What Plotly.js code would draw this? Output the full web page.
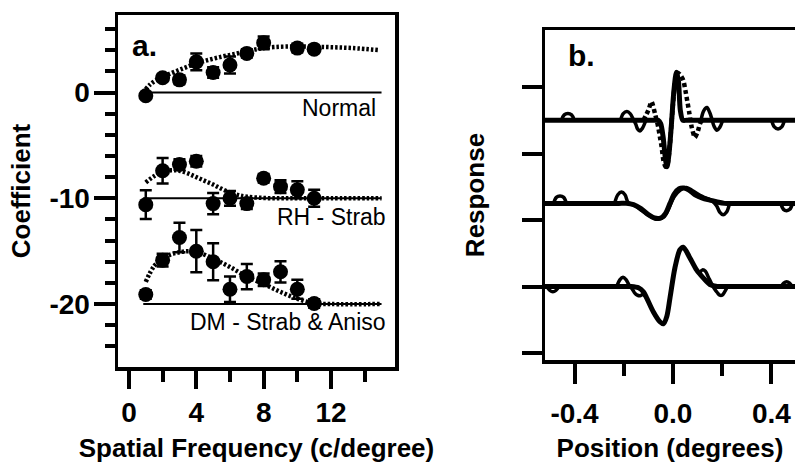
<!DOCTYPE html>
<html><head><meta charset="utf-8">
<script src="https://cdn.plot.ly/plotly-3.0.1.min.js"></script>
<style>html,body{margin:0;padding:0;background:#fff;overflow:hidden}#chart{width:795px;height:463px}</style>
</head><body><div id="chart"></div>
<script>
// ---------- Panel a: coefficients vs spatial frequency ----------
const freq = [1,2,3,4,5,6,7,8,9,10,11];
const normalFreq = [1,2,3,4,5,6,7,8,10,11];
const normalCoef = [-0.3,1.4,1.2,2.9,1.9,2.6,3.7,4.7,4.2,4.1];
const normalErr  = [0.2,0.3,0.4,0.8,0.5,0.8,0.4,0.6,0.4,0.3];
const rhCoef = [-10.6,-7.4,-6.8,-6.5,-10.5,-10.0,-10.5,-8.1,-8.9,-9.2,-10.0];
const rhErr  = [1.35,1.2,0.5,0.5,1.0,0.7,0.5,0.4,0.6,0.8,0.8];
const dmCoef = [-19.1,-15.85,-13.7,-15.0,-16.0,-18.6,-17.4,-17.7,-16.95,-18.6,-19.95];
const dmErr  = [0.4,0.6,1.4,2.0,1.75,1.2,1.2,0.6,1.0,0.9,0.4];

const normFitX = [1,1.25,1.65,2.25,3.25,4.2,5.4,6.6,7.6,8.6,10,11.75,13.3,14.9];
const normFitY = [0.3,0.75,1.2,1.65,2.3,2.85,3.35,3.75,4.1,4.3,4.35,4.3,4.2,4.0];
const rhFitX = [1,1.5,2,2.5,3,3.5,4,4.5,5,5.5,6,6.5,7,8,9,10,12,15];
const rhFitY = [-8.5,-7.9,-7.5,-7.35,-7.4,-7.65,-8.0,-8.35,-8.7,-9.1,-9.45,-9.7,-9.85,-9.97,-10,-10,-10,-10];
const dmFitX = [1,1.5,2,2.5,3,3.5,4,5,6,7,8,9,10,11,12,15];
const dmFitY = [-17.9,-16.4,-15.7,-15.3,-15.1,-15.0,-15.05,-15.7,-16.5,-17.4,-18.1,-18.85,-19.5,-19.95,-20,-20];

const baseX = [0.85, 15.0];
const baseLevels = [0, -10, -20];
const groupNames = ['Normal', 'RH - Strab', 'DM - Strab & Aniso'];

const aXTickVals = [0,4,8,12];
const aXTickText = ['0','4','8','12'];
const aYTickVals = [-20,-10,0];
const aYTickText = ['-20','-10','0'];

// ---------- Panel b: response profiles ----------
const rowOffsets = [3.5, 2.25, 1.0];
const model1X = [-0.52,-0.09,-0.07,-0.06,-0.05,-0.04,-0.03,-0.024,-0.016,-0.006,0.004,0.014,0.022,0.03,0.04,0.055,0.08,0.496];
const model1Y = [0,0,0,0,-0.05,-0.25,-0.6,-0.7,-0.5,-0.05,0.45,0.72,0.6,0.15,0,0,0,0];
const dotted1X = [-0.12,-0.1,-0.087,-0.073,-0.06,-0.053,-0.046,-0.039,-0.03,-0.022,-0.012,-0.002,0.008,0.018,0.03,0.042,0.053,0.06,0.066,0.076,0.089,0.1,0.11,0.118];
const dotted1Y = [0,0.15,0.28,0.1,-0.1,-0.25,-0.4,-0.6,-0.7,-0.66,-0.35,0.15,0.55,0.72,0.68,0.6,0.4,0.25,0.12,-0.1,-0.26,-0.18,-0.05,0];
const data1X = [-0.453,-0.442,-0.427,-0.412,-0.401,null,-0.213,-0.202,-0.187,-0.174,-0.162,-0.151,-0.144,-0.134,-0.124,-0.11,null,0.114,0.125,0.138,0.149,0.158,0.167,0.179,0.19,0.202,null,0.401,0.412,0.427,0.442,0.453];
const data1Y = [0,0.08,0.1,0.08,0,null,0,0.1,0.13,0.1,0.02,-0.06,-0.13,-0.16,-0.12,0,null,0,0.14,0.19,0.12,0.02,-0.09,-0.15,-0.11,0,null,0,-0.1,-0.13,-0.1,0];

const model2X = [-0.52,-0.22,-0.19,-0.16,-0.13,-0.1,-0.075,-0.05,-0.03,-0.012,0.005,0.025,0.045,0.065,0.09,0.12,0.15,0.18,0.21,0.24,0.496];
const model2Y = [0,0,0,-0.02,-0.08,-0.17,-0.22,-0.22,-0.15,0,0.14,0.22,0.23,0.2,0.13,0.08,0.05,0.02,0,0,0];
const data2X = [-0.485,-0.474,-0.459,-0.444,-0.433,null,-0.237,-0.224,-0.209,-0.195,-0.183,-0.17,-0.15,-0.13,-0.11,-0.085,-0.06,-0.035,-0.015,0.005,0.03,0.055,0.08,0.11,0.14,0.165,0.178,0.19,0.204,0.218,0.23,null,0.438,0.449,0.462,0.475,0.486];
const data2Y = [0,0.09,0.11,0.09,0,null,0,0.13,0.17,0.13,0.02,-0.01,-0.04,-0.1,-0.15,-0.21,-0.24,-0.2,-0.06,0.1,0.2,0.24,0.19,0.12,0.07,0.02,-0.04,-0.13,-0.17,-0.13,0,null,0,-0.09,-0.11,-0.09,0];

const model3X = [-0.52,-0.2,-0.17,-0.14,-0.12,-0.107,-0.08,-0.053,-0.039,-0.025,-0.012,0.008,0.028,0.042,0.069,0.096,0.123,0.15,0.18,0.21,0.496];
const model3Y = [0,0,0,-0.02,-0.08,-0.17,-0.38,-0.53,-0.56,-0.45,-0.17,0.28,0.55,0.59,0.43,0.25,0.13,0.03,0,0,0];
const data3X = [-0.512,-0.5,-0.488,-0.476,-0.464,null,-0.229,-0.216,-0.203,-0.19,-0.178,-0.165,-0.155,-0.145,-0.134,-0.122,-0.107,null,0.108,0.12,0.132,0.144,0.156,0.168,0.18,0.19,0.2,0.21,0.222,null,0.44,0.45,0.462,0.474,0.484];
const data3Y = [0,-0.06,-0.08,-0.06,0,null,0,0.1,0.14,0.1,0.02,-0.04,-0.1,-0.13,-0.14,-0.12,-0.17,null,0.2,0.25,0.23,0.14,0.05,-0.03,-0.09,-0.13,-0.13,-0.08,0,null,0,0.05,0.07,0.05,0];

const bXTickVals = [-0.4,0,0.4];
const bXTickText = ['-0.4','0.0','0.4'];
const bYTickVals = [0,1,2,3,4];

// ---------- build ----------
const FONT = 'Liberation Sans, Arial, Helvetica, sans-serif';
const shift = (arr, off) => arr.map(v => v === null ? null : v + off);

const traces = [];
baseLevels.forEach(b => traces.push({x: baseX, y: [b, b], mode: 'lines', line: {color: 'black', width: 2}, xaxis: 'x', yaxis: 'y', hoverinfo: 'skip'}));
[[normFitX, normFitY], [rhFitX, rhFitY], [dmFitX, dmFitY]].forEach(([fx, fy]) => traces.push({
  x: fx, y: fy, mode: 'lines', line: {color: 'black', width: 4.5, dash: '2.5px,2px', shape: 'spline', smoothing: 1}, xaxis: 'x', yaxis: 'y'}));
[[normalFreq, normalCoef, normalErr], [freq, rhCoef, rhErr], [freq, dmCoef, dmErr]].forEach(([fx, fy, fe], i) => traces.push({
  x: fx, y: fy, name: groupNames[i], mode: 'markers', marker: {color: 'black', size: 15},
  error_y: {type: 'data', array: fe, color: 'black', thickness: 2.5, width: 6}, xaxis: 'x', yaxis: 'y'}));

const rows = [[data1X, data1Y, model1X, model1Y], [data2X, data2Y, model2X, model2Y], [data3X, data3Y, model3X, model3Y]];
rows.forEach(([dx, dy, mx, my], i) => {
  traces.push({x: dx, y: shift(dy, rowOffsets[i]), mode: 'lines', connectgaps: false,
    line: {color: 'black', width: 3.5, shape: 'spline', smoothing: 1}, xaxis: 'x2', yaxis: 'y2'});
  traces.push({x: mx, y: shift(my, rowOffsets[i]), mode: 'lines',
    line: {color: 'black', width: 5, shape: 'spline', smoothing: 0.8}, xaxis: 'x2', yaxis: 'y2'});
});
traces.push({x: dotted1X, y: shift(dotted1Y, rowOffsets[0]), mode: 'lines',
  line: {color: 'black', width: 4.5, dash: '4px,3px', shape: 'spline', smoothing: 0.6}, xaxis: 'x2', yaxis: 'y2'});

const axisCommon = {showgrid: false, zeroline: false, showline: true, linecolor: 'black', linewidth: 3.5,
  ticks: 'outside', tickcolor: 'black', tickwidth: 4, tickfont: {size: 28, family: FONT, weight: 'bold', color: 'black'}};
const minorCommon = {tickmode: 'linear', tick0: 0, ticks: 'outside', tickwidth: 4, tickcolor: 'black', showgrid: false};
const titleFont = {size: 26, family: FONT, weight: 'bold', color: 'black'};

const layout = {
  width: 795, height: 463, margin: {l: 0, r: 0, t: 0, b: 0},
  paper_bgcolor: 'white', plot_bgcolor: 'white', showlegend: false,
  font: {family: FONT, color: 'black'},
  xaxis: Object.assign({}, axisCommon, {
    domain: [118/795, 395/795], range: [-0.65, 15.8], anchor: 'y', mirror: true,
    tickmode: 'array', tickvals: aXTickVals, ticktext: aXTickText, ticklen: 18, ticklabelstandoff: 0,
    minor: Object.assign({}, minorCommon, {dtick: 2, ticklen: 11}),
    title: {text: 'Spatial Frequency (c/degree)', font: titleFont, standoff: 24}
  }),
  yaxis: Object.assign({}, axisCommon, {
    domain: [96/463, 448/463], range: [-25.95, 7.33], anchor: 'x', mirror: true,
    tickmode: 'array', tickvals: aYTickVals, ticktext: aYTickText, ticklen: 21, ticklabelstandoff: -2,
    minor: Object.assign({}, minorCommon, {dtick: 2, ticklen: 10}),
    title: {text: 'Coefficient', font: titleFont, standoff: 12}
  }),
  xaxis2: Object.assign({}, axisCommon, {
    domain: [545/795, 1], range: [-0.52, 0.496], anchor: 'y2', mirror: true,
    tickmode: 'array', tickvals: bXTickVals, ticktext: bXTickText, ticklen: 20, ticklabelstandoff: 6,
    minor: Object.assign({}, minorCommon, {dtick: 0.2, ticklen: 12}),
    title: {text: 'Position (degrees)', font: titleFont, standoff: 18}
  }),
  yaxis2: Object.assign({}, axisCommon, {
    domain: [103/463, 433/463], range: [-0.105, 4.857], anchor: 'x2', mirror: false,
    tickmode: 'array', tickvals: bYTickVals, showticklabels: false, ticklen: 20,
    title: {text: 'Response', font: titleFont, standoff: 30}
  }),
  annotations: [
    {text: 'a.', xref: 'paper', yref: 'paper', x: 130/795, y: (463-45)/463, xanchor: 'left', yanchor: 'middle', showarrow: false, font: {size: 30, weight: 'bold', family: FONT}},
    {text: 'b.', xref: 'paper', yref: 'paper', x: 566/795, y: (463-55)/463, xanchor: 'left', yanchor: 'middle', showarrow: false, font: {size: 30, weight: 'bold', family: FONT}},
    {text: groupNames[0], xref: 'x', yref: 'y', x: 14.8, y: -1.45, xanchor: 'right', yanchor: 'middle', showarrow: false, font: {size: 23, family: FONT}},
    {text: groupNames[1], xref: 'x', yref: 'y', x: 15.4, y: -11.8, xanchor: 'right', yanchor: 'middle', showarrow: false, font: {size: 23, family: FONT}},
    {text: groupNames[2], xref: 'x', yref: 'y', x: 15.4, y: -21.7, xanchor: 'right', yanchor: 'middle', showarrow: false, font: {size: 23, family: FONT}}
  ]
};

Plotly.newPlot('chart', traces, layout, {staticPlot: true, displayModeBar: false});
</script></body></html>
